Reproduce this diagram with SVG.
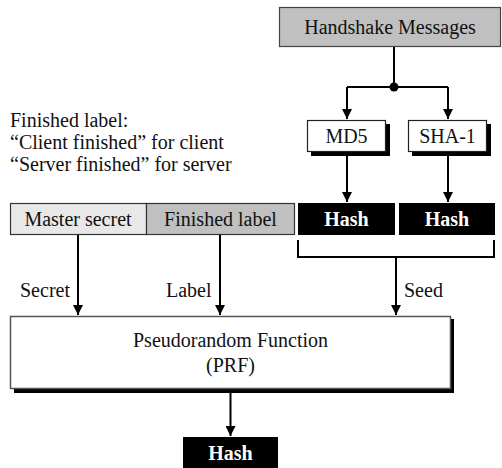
<svg xmlns="http://www.w3.org/2000/svg" width="502" height="468" viewBox="0 0 502 468">
<defs>
<marker id="ah" markerWidth="10" markerHeight="10" viewBox="0 0 10 10" refX="10" refY="5" orient="auto" markerUnits="userSpaceOnUse">
<path d="M0,0 L10,5 L0,10 Z" fill="#000"/>
</marker>
<style>
text{font-family:"Liberation Serif","Times New Roman",serif;font-size:20px;fill:#111}
.c{text-anchor:middle}
.w{fill:#fff;font-weight:bold}
.box{fill:#fff;stroke:#222;stroke-width:1.2}
.sh{fill:#000}
.blk{fill:#000}
.ln{fill:none;stroke:#000;stroke-width:2}
</style>
</defs>
<g id="handshake">
<rect x="279.5" y="7.5" width="221" height="39" fill="#c0c0c0" stroke="#444" stroke-width="1.2"/>
<text x="390" y="34" class="c">Handshake Messages</text>
</g>
<g id="md5">
<rect x="311" y="124" width="79" height="32" class="sh"/>
<rect x="307.5" y="120.5" width="78" height="31" class="box"/>
<text x="346.5" y="143" class="c">MD5</text>
</g>
<g id="sha1">
<rect x="412" y="124" width="79" height="32" class="sh"/>
<rect x="408.5" y="120.5" width="78" height="31" class="box"/>
<text x="447.5" y="143" class="c">SHA-1</text>
</g>
<g id="hash1">
<rect x="298" y="203" width="97" height="32" class="blk"/>
<text x="346.5" y="226" class="c w">Hash</text>
</g>
<g id="hash2">
<rect x="399" y="203" width="96" height="32" class="blk"/>
<text x="447" y="226" class="c w">Hash</text>
</g>
<g id="note">
<text x="10" y="127">Finished label:</text>
<text x="10" y="149">“Client finished” for client</text>
<text x="10" y="171">“Server finished” for server</text>
</g>
<g id="master">
<rect x="10.5" y="203.5" width="136" height="31" fill="#e8e8e8" stroke="#333" stroke-width="1.2"/>
<text x="78" y="226" class="c">Master secret</text>
</g>
<g id="finished">
<rect x="146.5" y="203.5" width="148" height="31" fill="#c0c0c0" stroke="#333" stroke-width="1.2"/>
<text x="220.5" y="226" class="c">Finished label</text>
</g>
<g id="prf">
<rect x="14" y="319" width="440" height="74" class="sh"/>
<rect x="10.5" y="316.5" width="440" height="72" fill="#fff" stroke="#555" stroke-width="1.5"/>
<text x="230.5" y="347" class="c">Pseudorandom Function</text>
<text x="230.5" y="372" class="c">(PRF)</text>
</g>
<g id="hash3">
<rect x="183" y="437" width="95" height="31" class="blk"/>
<text x="230.5" y="460" class="c w">Hash</text>
</g>
<g id="connectors">
<path d="M394,47 V87 M347,87 H448" class="ln"/>
<circle cx="394" cy="87" r="4.5" fill="#000"/>
<path d="M347,87 V119" class="ln" marker-end="url(#ah)"/>
<path d="M448,87 V119" class="ln" marker-end="url(#ah)"/>
<path d="M347,156 V202" class="ln" marker-end="url(#ah)"/>
<path d="M448,156 V202" class="ln" marker-end="url(#ah)"/>
<path d="M298,240 V257 H494 V240" class="ln" stroke-width="2.5"/>
<path d="M396,257 V315" class="ln" marker-end="url(#ah)"/>
<path d="M78,235 V315" class="ln" marker-end="url(#ah)"/>
<path d="M220,235 V315" class="ln" marker-end="url(#ah)"/>
<path d="M230.5,393 V436" class="ln" marker-end="url(#ah)"/>
<text x="20" y="297">Secret</text>
<text x="166" y="297">Label</text>
<text x="404" y="297">Seed</text>
</g>
</svg>
